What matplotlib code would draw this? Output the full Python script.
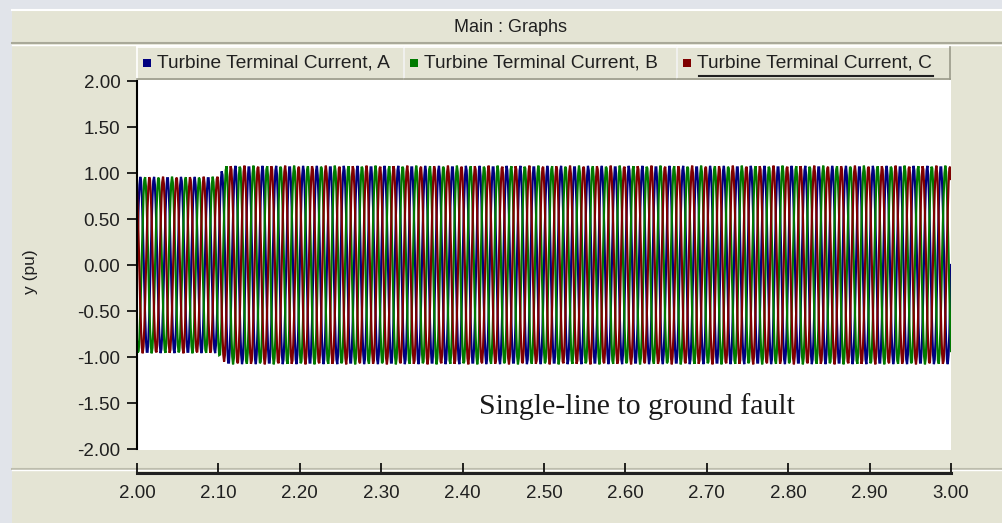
import numpy as np
import matplotlib
matplotlib.use("Agg")
import matplotlib.pyplot as plt
from matplotlib.patches import Rectangle
from matplotlib.lines import Line2D

# ---- data ----
series_names = ["Turbine Terminal Current, A", "Turbine Terminal Current, B", "Turbine Terminal Current, C"]
series_colors = ["#00007f", "#007a00", "#7f0000"]
phase_angles_deg = [0.0, -120.0, 120.0]
freq_hz = 60.0
envelope_t = [2.0, 2.098, 2.11, 3.0]          # time points of amplitude envelope (s)
envelope_amp = [0.96, 0.96, 1.08, 1.08]       # peak current (pu)
t_start, t_end, t_step = 2.0, 3.0, 0.001
x_ticks = [2.0, 2.1, 2.2, 2.3, 2.4, 2.5, 2.6, 2.7, 2.8, 2.9, 3.0]
y_ticks = [-2.0, -1.5, -1.0, -0.5, 0.0, 0.5, 1.0, 1.5, 2.0]
title_text = "Main : Graphs"
y_label = "y (pu)"
annotation = "Single-line to ground fault"
annotation_xy = (2.614, -1.54)

W, H = 1002, 523
fig = plt.figure(figsize=(W / 100, H / 100), dpi=100, facecolor="#e1e4ea")

def fx(x):
    return x / W

def fy(y):
    return 1 - y / H

beige = "#e4e4d4"
font = "Liberation Sans"

# panel
fig.patches.append(Rectangle((fx(12), 0), fx(W - 12), fy(9), transform=fig.transFigure,
                             facecolor=beige, edgecolor="none", zorder=-3))
fig.patches.append(Rectangle((fx(137), fy(450)), fx(951 - 137), (450 - 80) / H,
                             transform=fig.transFigure, facecolor="white", edgecolor="none", zorder=-2))

def hline(y, x0, x1, color, lw=1.0):
    fig.lines.append(Line2D([fx(x0), fx(x1)], [fy(y), fy(y)], transform=fig.transFigure,
                            color=color, lw=lw, zorder=-1))
def vline(x, y0, y1, color, lw=1.0):
    fig.lines.append(Line2D([fx(x), fx(x)], [fy(y0), fy(y1)], transform=fig.transFigure,
                            color=color, lw=lw, zorder=-1))

hline(9.5, 12, W, "white", 1.5)
hline(43, 12, W, "#a9a999", 1.5)
hline(44.5, 12, W, "white", 1.0)
hline(468.5, 12, W, "#bdbdad", 1.5)
hline(470, 12, W, "white", 1.0)

fig.text(fx(510), fy(27), title_text, ha="center", va="center", fontsize=13,
         family=font, color="#202020")

# legend boxes
box_edges = [137, 404, 677, 950]
for i, name in enumerate(series_names):
    x0, x1 = box_edges[i], box_edges[i + 1]
    y0, y1 = 47, 79
    hline(y0, x0, x1, "white", 1.2)
    vline(x0, y0, y1, "white", 1.2)
    hline(y1, x0, x1, "#9a9a8a", 1.2)
    vline(x1, y0, y1, "#9a9a8a", 1.2)
    fig.patches.append(Rectangle((fx(x0 + 6), fy(67)), fx(8), 8 / H, transform=fig.transFigure,
                                 facecolor=series_colors[i], edgecolor="none", zorder=1))
    fig.text(fx(x0 + 20), fy(63), name, ha="left", va="center", fontsize=13.8,
             family=font, color="#202020")
    if i == 2:
        hline(75.5, x0 + 22, x1 - 17, "#202020", 1.5)

# main plot
ax = fig.add_axes([fx(137), fy(449), fx(951 - 137), (449 - 81) / H])
ax.set_zorder(5)
ax.set_facecolor("white")
t = np.arange(t_start, t_end + t_step / 2, t_step)
amp = np.interp(t, envelope_t, envelope_amp)
for name, col, ph in zip(series_names, series_colors, phase_angles_deg):
    y = amp * np.sin(2 * np.pi * freq_hz * t + np.deg2rad(ph))
    ax.plot(t, y, color=col, lw=1.6, solid_joinstyle="miter")
ax.set_xlim(t_start, t_end)
ax.set_ylim(-2.0, 2.0)
ax.set_xticks([])
ax.set_yticks(y_ticks)
ax.set_yticklabels([f"{v:.2f}" for v in y_ticks], family=font, fontsize=13.5, color="#202020")
ax.tick_params(axis="y", direction="out", length=7, width=1.2, pad=5)
for s in ["top", "right", "bottom"]:
    ax.spines[s].set_visible(False)
ax.spines["left"].set_linewidth(1.5)
ax.text(annotation_xy[0], annotation_xy[1], annotation, ha="center", va="center",
        fontsize=21.5, family="Liberation Serif", color="#1a1a1a")

fig.text(fx(30), fy(272), y_label, rotation=90, ha="center", va="center", fontsize=12.5,
         family=font, color="#202020")

# x axis strip
axx = fig.add_axes([fx(137), fy(473), fx(951 - 137), 6 / H])
axx.set_zorder(5)
axx.set_facecolor("none")
axx.set_xlim(t_start, t_end)
axx.set_yticks([])
axx.set_xticks(x_ticks)
axx.set_xticklabels([f"{v:.2f}" for v in x_ticks], family=font, fontsize=13.5, color="#202020")
axx.tick_params(axis="x", direction="in", length=7, width=1.2, pad=9)
for s in ["top", "right", "left"]:
    axx.spines[s].set_visible(False)
axx.spines["bottom"].set_linewidth(2.2)
axx.spines["bottom"].set_color("#202020")

fig.savefig("out.png", dpi=100, facecolor=fig.get_facecolor())
